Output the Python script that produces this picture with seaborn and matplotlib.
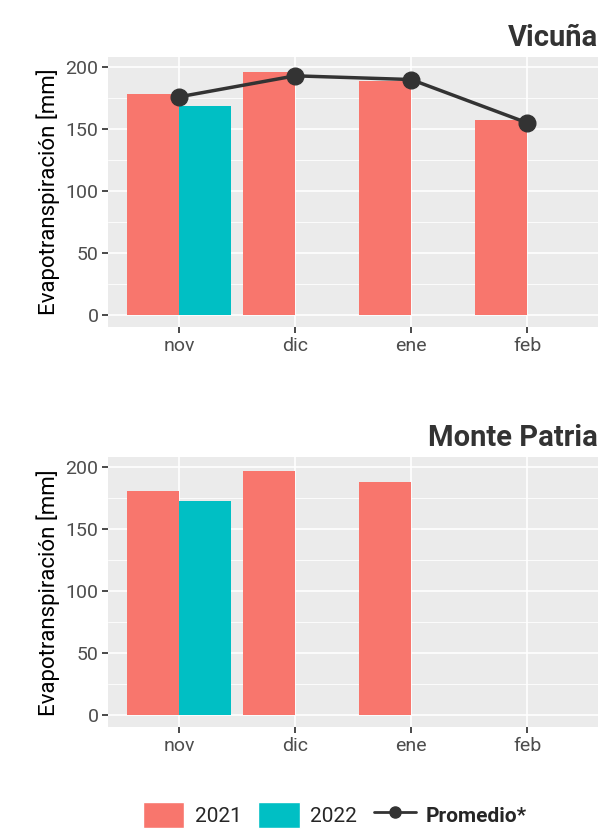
import numpy as np
import pandas as pd
import matplotlib
matplotlib.use('Agg')
import matplotlib.pyplot as plt
from matplotlib.patches import Patch
from matplotlib.lines import Line2D
import seaborn as sns

months = ['nov', 'dic', 'ene', 'feb']
years = ['2021', '2022']

vic_2021 = [178, 196, 189, 157]
vic_2022 = [169, np.nan, np.nan, np.nan]
vic_prom = [176, 193, 190, 155]

mp_2021 = [181, 197, 188, np.nan]
mp_2022 = [173, np.nan, np.nan, np.nan]

colors = {'2021': '#F8766D', '2022': '#00BFC4'}

sns.set_theme(style='darkgrid')
plt.rcParams['font.family'] = ['Roboto', 'DejaVu Sans']

fig = plt.figure(figsize=(5.98, 8.3), dpi=100)
ax1 = fig.add_axes([0.181, 0.606, 0.819, 0.325])
ax2 = fig.add_axes([0.181, 0.124, 0.819, 0.325])

def panel(ax, v21, v22, title, prom=None):
    df = pd.DataFrame({
        'mes': months * 2,
        'anio': ['2021'] * 4 + ['2022'] * 4,
        'val': list(v21) + list(v22),
    })
    sns.barplot(data=df, x='mes', y='val', hue='anio', order=months,
                hue_order=years, palette=colors, width=0.9, gap=0,
                saturation=1, errorbar=None, ax=ax, legend=False, linewidth=0)
    if prom is not None:
        ax.plot(range(len(months)), prom, color='#333333', lw=2.5,
                marker='o', ms=12, zorder=5)
    ax.set_facecolor('#EBEBEB')
    ax.set_axisbelow(True)
    ax.set_xlim(-0.61, 3.61)
    ax.set_ylim(-10, 208)
    ax.set_yticks([0, 50, 100, 150, 200])
    ax.set_yticks([25, 75, 125, 175], minor=True)
    ax.grid(True, which='major', color='white', lw=1.2)
    ax.grid(True, which='minor', axis='y', color='white', lw=0.6)
    ax.tick_params(axis='both', which='major', labelsize=14, labelcolor='#4D4D4D',
                   length=4, color='#333333', bottom=True, left=True, pad=3)
    ax.tick_params(which='minor', length=0)
    ax.set_xlabel('')
    ax.set_ylabel('Evapotranspiración [mm]', fontsize=16, color='black')
    for s in ax.spines.values():
        s.set_visible(False)
    ax.set_title(title, loc='right', fontsize=21, fontweight='bold',
                 color='#333333', pad=8)

panel(ax1, vic_2021, vic_2022, 'Vicuña', vic_prom)
panel(ax2, mp_2021, mp_2022, 'Monte Patria')

handles = [
    Patch(facecolor=colors['2021'], label='2021'),
    Patch(facecolor=colors['2022'], label='2022'),
    Line2D([0], [0], color='#333333', lw=2, marker='o', ms=8, label='Promedio*'),
]
leg = fig.legend(handles=handles, loc='center', bbox_to_anchor=(0.56, 0.018), ncol=3,
                 frameon=False, fontsize=15, handlelength=2, handleheight=1.6,
                 columnspacing=0.8, handletextpad=0.5)
leg.get_texts()[2].set_fontweight('bold')

fig.savefig('out.png', dpi=100)
